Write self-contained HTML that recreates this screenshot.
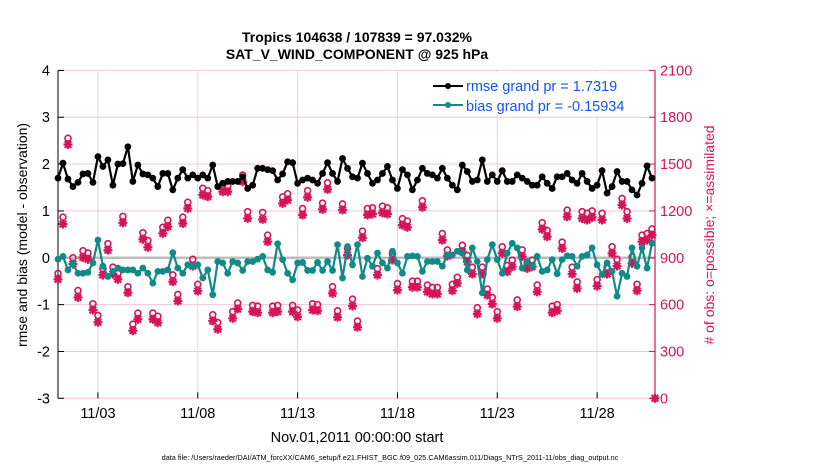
<!DOCTYPE html>
<html><head><meta charset="utf-8"><style>
body{margin:0;background:#fff;}
svg{display:block;font-family:"Liberation Sans",Arial,sans-serif;}
</style></head><body>
<svg id="chart" width="830" height="470" viewBox="0 0 830 470" xmlns="http://www.w3.org/2000/svg">
<rect width="830" height="470" fill="#fff"/>
<g id="grid"></g>
<g id="axes"></g>
<g id="series"></g>
<g>
<rect x="420" y="72" width="233" height="44" fill="#fff"/>
<line x1="433" y1="86" x2="463" y2="86" stroke="#000" stroke-width="2"/>
<circle cx="448" cy="86" r="3" fill="#000"/>
<text x="466" y="91" font-size="14.5" fill="#1454f0">rmse grand pr = 1.7319</text>
<line x1="433" y1="105" x2="463" y2="105" stroke="#118a88" stroke-width="2"/>
<circle cx="448" cy="105" r="3" fill="#118a88"/>
<text x="466" y="111" font-size="14.5" fill="#1454f0">bias grand pr = -0.15934</text>
</g>
<text x="357" y="42" font-size="14" font-weight="bold" text-anchor="middle">Tropics 104638 / 107839 = 97.032%</text>
<text x="357" y="59" font-size="14" font-weight="bold" text-anchor="middle">SAT_V_WIND_COMPONENT @ 925 hPa</text>
<text transform="translate(27,235) rotate(-90)" font-size="14" text-anchor="middle">rmse and bias (model - observation)</text>
<text transform="translate(714,235) rotate(-90)" font-size="14" text-anchor="middle" fill="#d4145a"># of obs: o=possible; ×=assimilated</text>
<text x="357" y="442" font-size="14.5" text-anchor="middle">Nov.01,2011 00:00:00 start</text>
<text x="390" y="460" font-size="7.3" text-anchor="middle">data file: /Users/raeder/DAI/ATM_forcXX/CAM6_setup/f.e21.FHIST_BGC.f09_025.CAM6assim.011/Diags_NTrS_2011-11/obs_diag_output.nc</text>
</svg>
<script>
const rmse=[1.70,2.02,1.68,1.52,1.61,1.79,1.80,1.61,2.16,1.95,2.09,1.55,2.00,2.01,2.37,1.63,1.98,1.79,1.77,1.70,1.52,1.80,1.80,1.45,1.70,1.88,1.70,1.77,1.70,1.77,1.70,1.98,1.52,1.59,1.63,1.63,1.63,1.73,1.48,1.55,1.91,
1.91,1.88,1.86,1.66,1.79,2.05,2.03,1.59,1.66,1.70,1.66,1.59,1.80,2.03,1.80,1.63,2.12,1.91,1.73,1.70,2.02,1.80,1.59,1.66,1.80,1.95,1.66,1.48,1.88,1.77,1.45,1.66,1.91,1.80,1.77,1.70,1.91,1.70,1.55,1.45,
1.98,1.84,1.63,1.66,2.09,1.63,1.77,1.63,1.86,1.63,1.63,1.77,1.70,1.63,1.55,1.55,1.73,1.59,1.48,1.73,1.73,1.80,1.66,1.59,1.80,1.63,1.48,1.55,1.86,1.38,1.52,1.84,1.63,1.63,1.45,1.34,1.59,1.96,1.70];
const bias=[-0.03,0.03,-0.26,-0.13,-0.33,-0.33,-0.31,-0.11,0.38,-0.18,-0.40,-0.29,-0.22,-0.26,-0.26,-0.26,-0.33,-0.22,-0.33,-0.54,-0.29,-0.29,-0.26,0.11,-0.22,-0.33,-0.15,-0.18,-0.15,-0.43,-0.26,-0.79,-0.08,-0.11,-0.33,-0.08,-0.11,-0.27,-0.08,-0.08,-0.03,
0.03,-0.26,-0.31,0.30,-0.04,-0.33,-0.47,-0.11,-0.10,-0.27,-0.27,-0.10,-0.27,-0.08,-0.27,0.28,-0.43,0.24,-0.15,0.28,-0.40,-0.01,-0.18,0.10,-0.11,-0.22,0.14,-0.11,-0.33,0.03,0.04,0.03,-0.29,-0.08,-0.08,-0.08,-0.18,0.06,0.06,0.14,
0.10,-0.26,0.21,-0.08,-0.75,-0.04,0.28,-0.04,-0.33,0.10,0.31,0.21,-0.22,-0.08,-0.18,0.03,-0.29,-0.26,-0.04,-0.34,-0.04,0.04,0.03,-0.18,0.03,0.06,0.21,-0.15,-0.36,-0.11,-0.29,-0.82,-0.33,-0.40,0.21,-0.18,0.21,-0.22,0.31];
const assimilated=[762,1116,1625,860,646,902,890,565,487,789,949,796,762,1124,676,433,506,1018,967,506,484,1056,1099,747,623,1120,1216,847,687,1302,1291,495,442,1323,1323,512,572,1387,1152,555,548,
1146,1003,548,555,1248,1270,555,522,1174,1287,565,561,1210,1338,672,519,1206,917,591,455,1028,1174,1180,789,1188,1180,885,693,1109,1095,711,711,1223,682,668,668,1013,911,689,736,
939,875,796,540,796,661,604,512,928,811,843,587,907,832,843,682,1082,1035,548,561,960,1163,796,704,1152,1142,1159,719,1142,796,928,847,1238,1152,864,689,1003,1013,1045];
const possible=[800,1160,1665,900,690,945,930,605,530,830,990,840,800,1165,715,475,545,1060,1010,545,525,1095,1140,790,665,1160,1255,890,730,1345,1330,535,485,1365,1360,555,610,1430,1195,595,590,
1190,1045,590,595,1290,1310,595,565,1215,1330,605,600,1250,1380,715,560,1245,960,635,495,1070,1215,1220,830,1230,1220,925,735,1150,1135,750,750,1265,725,710,710,1055,950,730,775,
980,915,840,580,840,700,645,555,970,850,885,630,950,870,885,725,1125,1075,590,600,1000,1205,840,745,1195,1185,1200,760,1185,840,970,890,1280,1195,905,730,1045,1055,1085];
const endCount=[0];
const tickDays=[2,7,12,17,22,27];
const tickLabels=["11/03","11/08","11/13","11/18","11/23","11/28"];
const leftTicks=[4,3,2,1,0,-1,-2,-3];
const rightTicks=[2100,1800,1500,1200,900,600,300,0];
const stepDays=0.25;

const NS="http://www.w3.org/2000/svg";
const X0=58,X1=655,YT=70.4,YB=398.3,DMAX=29.9;
const xs=d=>X0+(X1-X0)*d/DMAX;
const yl=v=>YB-(YB-YT)*(v+3)/7;
const yr=c=>YB-(YB-YT)*c/2100;
function el(tag,attrs,parent){const e=document.createElementNS(NS,tag);for(const k in attrs)e.setAttribute(k,attrs[k]);parent.appendChild(e);return e;}
const grid=document.getElementById('grid'),axes=document.getElementById('axes'),series=document.getElementById('series');

rightTicks.forEach(c=>{const g=el('line',{x1:X0,x2:X1,y1:yr(c),y2:yr(c),stroke:'#f3c6d6','stroke-width':1},grid);

});
tickDays.forEach(d=>{const g=el('line',{x1:xs(d),x2:xs(d),y1:YT,y2:YB,stroke:'#d8d8d8','stroke-width':1},grid);

});
const zl=el('line',{x1:X0,x2:X1,y1:yl(0),y2:yl(0),stroke:'#bdbdbd','stroke-width':2.5},grid);



el('line',{x1:X0,x2:X0,y1:YT,y2:YB,stroke:'#000','stroke-width':1},axes);
el('line',{x1:X1,x2:X1,y1:YT,y2:YB,stroke:'#d4145a','stroke-width':1.2},axes);
leftTicks.forEach(v=>{el('line',{x1:X0,x2:X0+6,y1:yl(v),y2:yl(v),stroke:'#000'},axes);
const t=el('text',{x:X0-8,y:yl(v)+5,'font-size':14.5,'text-anchor':'end'},axes);t.textContent=v;

});
rightTicks.forEach(c=>{el('line',{x1:X1-6,x2:X1,y1:yr(c),y2:yr(c),stroke:'#d4145a'},axes);
const t=el('text',{x:X1+5,y:yr(c)+5,'font-size':14.5,fill:'#d4145a'},axes);t.textContent=c;

});
tickDays.forEach((d,i)=>{el('line',{x1:xs(d),x2:xs(d),y1:YB-6,y2:YB,stroke:'#000'},axes);
const t=el('text',{x:xs(d),y:418,'font-size':14.5,'text-anchor':'middle'},axes);t.textContent=tickLabels[i];

});

const red='#d4145a';
function star(x,y){const g=el('g',{stroke:red,'stroke-width':2.2},series);


el('line',{x1:x-4.5,x2:x+4.5,y1:y,y2:y},g);el('line',{x1:x,x2:x,y1:y-4.5,y2:y+4.5},g);
el('line',{x1:x-3.3,x2:x+3.3,y1:y-3.3,y2:y+3.3},g);el('line',{x1:x-3.3,x2:x+3.3,y1:y+3.3,y2:y-3.3},g);}
possible.forEach((c,i)=>{const m=el('circle',{cx:xs(i*stepDays),cy:yr(c),r:3,fill:'none',stroke:red,'stroke-width':1.6},series);

});
assimilated.forEach((c,i)=>star(xs(i*stepDays),yr(c)));
endCount.forEach(c=>{star(xs(DMAX),yr(c));});

function drawLine(arr,color,name){
const p=el('polyline',{points:arr.map((v,i)=>xs(i*stepDays)+','+yl(v)).join(' '),fill:'none',stroke:color,'stroke-width':2.2},series);


arr.forEach((v,i)=>{const c=el('circle',{cx:xs(i*stepDays),cy:yl(v),r:3.4,fill:color},series);

});}
drawLine(bias,'#118a88','bias');
drawLine(rmse,'#000','rmse');
</script>
</body></html>
